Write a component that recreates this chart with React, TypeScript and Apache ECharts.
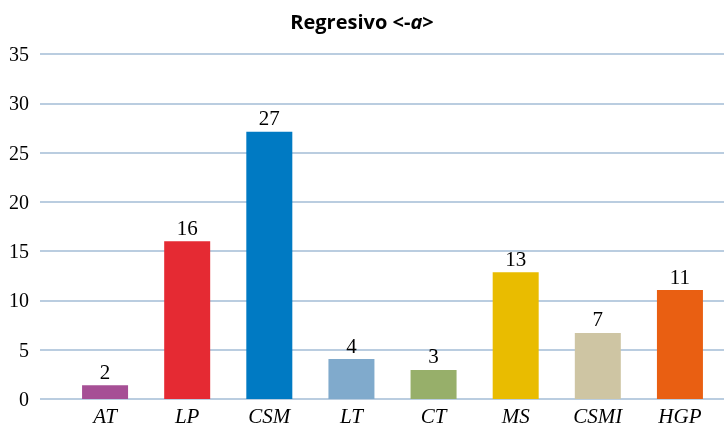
import React, { useEffect, useRef } from "react";
import * as echarts from "echarts";

const categories = ["AT", "LP", "CSM", "LT", "CT", "MS", "CSMI", "HGP"];
const values = [1.4, 16, 27.1, 4.05, 2.95, 12.85, 6.7, 11.05];
const labels = ["2", "16", "27", "4", "3", "13", "7", "11"];
const colors = ["#A64F95", "#E52A33", "#007AC3", "#80AACC", "#97AF6A", "#E9BC00", "#CEC5A3", "#E95F12"];

export default function App() {
  const ref = useRef<HTMLDivElement>(null);
  useEffect(() => {
    if (!ref.current) return;
    const chart = echarts.init(ref.current, undefined, { renderer: "svg" });
    const serif = "'Liberation Serif', 'Times New Roman', serif";
    chart.setOption({
      animation: false,
      title: {
        text: "{b|Regresivo <-}{i|a}{b|>}",
        left: "center",
        top: 4,
        textStyle: {
          fontSize: 20,
          rich: {
            b: { fontFamily: "'Open Sans', sans-serif", fontWeight: "bold", fontSize: 20, lineHeight: 24, color: "#000" },
            i: { fontFamily: "'Open Sans', sans-serif", fontWeight: "bold", fontStyle: "italic", fontSize: 20, lineHeight: 24, color: "#000" },
          },
        },
      },
      grid: [
        { left: 40, right: 0, top: 54, bottom: 27, containLabel: false },
        { left: 64, right: 3, top: 54, bottom: 27, containLabel: false },
      ],
      xAxis: [
        { type: "category", gridIndex: 0, data: categories, show: false },
        {
          type: "category",
          gridIndex: 1,
          data: categories,
          axisLine: { show: false },
          axisTick: { show: false },
          axisLabel: { fontFamily: serif, fontStyle: "italic", fontSize: 21, color: "#000", margin: 6 },
        },
      ],
      yAxis: [
        {
          type: "value",
          gridIndex: 0,
          min: 0,
          max: 35,
          interval: 5,
          axisLine: { show: false },
          axisTick: { show: false },
          splitLine: { lineStyle: { color: "#A3BDD6", width: 1.5 } },
          axisLabel: { fontFamily: serif, fontSize: 20, color: "#000", margin: 11 },
        },
        { type: "value", gridIndex: 1, min: 0, max: 35, interval: 5, show: false, splitLine: { show: false } },
      ],
      series: [
        {
          type: "bar",
          xAxisIndex: 1,
          yAxisIndex: 1,
          barWidth: 46,
          data: values.map((v, i) => ({ value: v, itemStyle: { color: colors[i] } })),
          label: {
            show: true,
            position: "top",
            distance: 3,
            fontFamily: serif,
            fontSize: 21,
            color: "#000",
            formatter: (p: any) => labels[p.dataIndex],
          },
        },
      ],
    });
    return () => chart.dispose();
  }, []);
  return <div ref={ref} style={{ width: 724, height: 426, position: "fixed", left: 0, top: 0 }} />;
}
